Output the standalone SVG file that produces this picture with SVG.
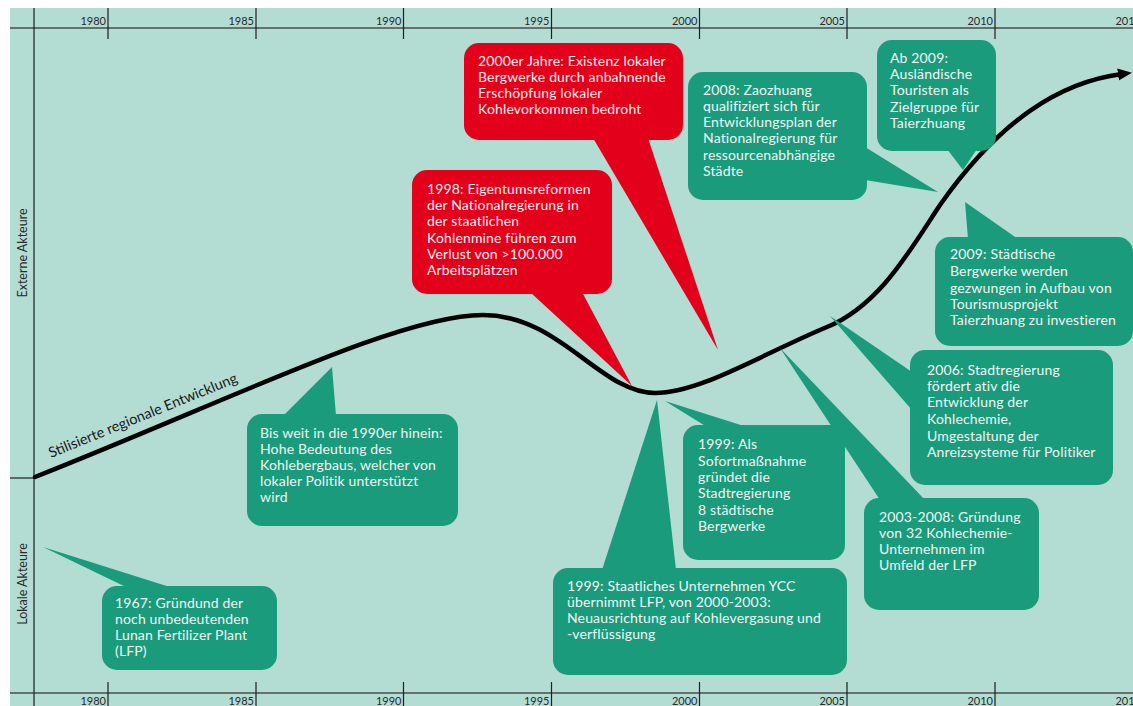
<svg xmlns="http://www.w3.org/2000/svg" width="1133" height="706" viewBox="0 0 1133 706">
<defs>
<style>
.bg{fill:#b3dcd3}
.ax{stroke:#4a4f4d;stroke-width:1.6;fill:none}
.tk{stroke:#1e1e1e;stroke-width:1.2;fill:none}
.yr{font-family:Lato,"Liberation Sans",sans-serif;font-size:11px;fill:#2a2a2a;text-anchor:end}
.side{font-family:Lato,"Liberation Sans",sans-serif;font-size:12.5px;fill:#2a2a2a;text-anchor:middle}
.g{fill:#1a9b7b}
.r{fill:#e2001a}
.t{font-family:Lato,"Liberation Sans",sans-serif;font-size:14px;letter-spacing:0.15px;fill:#f4f4f4}
.curve{stroke:#000;stroke-width:4.5;fill:none;stroke-linecap:round}
.lbl{font-family:Lato,"Liberation Sans",sans-serif;font-size:14.5px;fill:#1a1a1a}
</style>
<marker id="ah" markerUnits="userSpaceOnUse" markerWidth="16" markerHeight="16" refX="4" refY="8" orient="auto">
<path d="M0,2 L14,8 L0,14 Z" fill="#000"/>
</marker>
</defs>
<rect width="1133" height="706" fill="#fff"/>
<rect class="bg" x="10" y="8" width="1123" height="698"/>

<g id="axes">
<line class="ax" x1="10" y1="28" x2="1133" y2="28"/>
<line class="ax" x1="10" y1="693" x2="1133" y2="693"/>
<line class="tk" x1="34" y1="8" x2="34" y2="706"/>
<line class="tk" x1="10" y1="478" x2="34" y2="478"/>
<g class="tk">
<line x1="108" y1="8" x2="108" y2="39"/><line x1="256" y1="8" x2="256" y2="39"/>
<line x1="403.5" y1="8" x2="403.5" y2="39"/><line x1="551.5" y1="8" x2="551.5" y2="39"/>
<line x1="699.5" y1="8" x2="699.5" y2="39"/><line x1="847" y1="8" x2="847" y2="39"/>
<line x1="995" y1="8" x2="995" y2="39"/>
<line x1="108" y1="682" x2="108" y2="706"/><line x1="256" y1="682" x2="256" y2="706"/>
<line x1="403.5" y1="682" x2="403.5" y2="706"/><line x1="551.5" y1="682" x2="551.5" y2="706"/>
<line x1="699.5" y1="682" x2="699.5" y2="706"/><line x1="847" y1="682" x2="847" y2="706"/>
<line x1="995" y1="682" x2="995" y2="706"/>
</g>
<g class="yr">
<text x="106" y="25">1980</text><text x="254" y="25">1985</text><text x="401.5" y="25">1990</text>
<text x="549.5" y="25">1995</text><text x="697.5" y="25">2000</text><text x="845" y="25">2005</text>
<text x="993" y="25">2010</text><text x="1141" y="25">2015</text>
<text x="106" y="705">1980</text><text x="254" y="705">1985</text><text x="401.5" y="705">1990</text>
<text x="549.5" y="705">1995</text><text x="697.5" y="705">2000</text><text x="845" y="705">2005</text>
<text x="993" y="705">2010</text><text x="1141" y="705">2015</text>
</g>
<text class="side" transform="translate(27,253) rotate(-90)">Externe Akteure</text>
<text class="side" transform="translate(27,584) rotate(-90)">Lokale Akteure</text>
</g>

<g id="connectors">
<path class="curve" marker-end="url(#ah)" d="M35,477 C230,400 400,315 483,315 C560,315 600,393 655,393 C700,393 760,355 827,327 C880,305 910,250 940,205 C1000,120 1060,82 1122,74"/>
<text class="lbl" transform="translate(51,458) rotate(-22.1)">Stilisierte regionale Entwicklung</text>
</g>

<g id="n1990">
<polygon class="g" points="283,416 332,367 336,416"/>
<rect class="g" x="247" y="414" width="211" height="112" rx="15"/>
<text class="t"><tspan x="260" y="438">Bis weit in die 1990er hinein:</tspan><tspan x="260" y="454">Hohe Bedeutung des</tspan><tspan x="260" y="470">Kohlebergbaus, welcher von</tspan><tspan x="260" y="486">lokaler Politik unterstützt</tspan><tspan x="260" y="502">wird</tspan></text>
</g>

<g id="n1967">
<polygon class="g" points="128,588 43,547 173,588"/>
<rect class="g" x="102" y="586" width="175" height="84" rx="15"/>
<text class="t"><tspan x="115" y="608">1967: Gründund der</tspan><tspan x="115" y="624">noch unbedeutenden</tspan><tspan x="115" y="640">Lunan Fertilizer Plant</tspan><tspan x="115" y="656">(LFP)</tspan></text>
</g>

<g id="n1998">
<polygon class="r" points="530,292 632,386 582,292"/>
<rect class="r" x="412" y="170" width="200" height="124" rx="15"/>
<text class="t"><tspan x="427" y="194">1998: Eigentumsreformen</tspan><tspan x="427" y="210">der Nationalregierung in</tspan><tspan x="427" y="226">der staatlichen</tspan><tspan x="427" y="243">Kohlenmine führen zum</tspan><tspan x="427" y="259">Verlust von &gt;100.000</tspan><tspan x="427" y="275">Arbeitsplätzen</tspan></text>
</g>

<g id="n2000">
<polygon class="r" points="593,138 718,350 648,138"/>
<rect class="r" x="464" y="43" width="219" height="97" rx="15"/>
<text class="t"><tspan x="478" y="66">2000er  Jahre: Existenz lokaler</tspan><tspan x="478" y="82">Bergwerke durch anbahnende</tspan><tspan x="478" y="98">Erschöpfung lokaler</tspan><tspan x="478" y="114">Kohlevorkommen bedroht</tspan></text>
</g>

<g id="n2008">
<polygon class="g" points="865,147 938,192 865,180"/>
<rect class="g" x="688" y="72" width="179" height="128" rx="15"/>
<text class="t"><tspan x="703" y="95">2008: Zaozhuang</tspan><tspan x="703" y="111">qualifiziert sich für</tspan><tspan x="703" y="127">Entwicklungsplan der</tspan><tspan x="703" y="143">Nationalregierung für</tspan><tspan x="703" y="160">ressourcenabhängige</tspan><tspan x="703" y="176">Städte</tspan></text>
</g>

<g id="nAb2009">
<polygon class="g" points="947,149 963,170 977,149"/>
<rect class="g" x="877" y="40" width="119" height="111" rx="15"/>
<text class="t"><tspan x="890" y="63">Ab 2009:</tspan><tspan x="890" y="79">Ausländische</tspan><tspan x="890" y="95">Touristen als</tspan><tspan x="890" y="112">Zielgruppe für</tspan><tspan x="890" y="128">Taierzhuang</tspan></text>
</g>

<g id="n2009">
<polygon class="g" points="968,239 965,202 1018,239"/>
<rect class="g" x="935" y="237" width="198" height="109" rx="15"/>
<text class="t"><tspan x="950" y="259">2009: Städtische</tspan><tspan x="950" y="276">Bergwerke werden</tspan><tspan x="950" y="293">gezwungen in Aufbau von</tspan><tspan x="950" y="309">Tourismusprojekt</tspan><tspan x="950" y="325">Taierzhuang zu investieren</tspan></text>
</g>

<g id="n2006">
<polygon class="g" points="912,372 830,316 912,410"/>
<rect class="g" x="910" y="350" width="203" height="135" rx="15"/>
<text class="t"><tspan x="927" y="375">2006: Stadtregierung</tspan><tspan x="927" y="391">fördert ativ die</tspan><tspan x="927" y="407">Entwicklung der</tspan><tspan x="927" y="424">Kohlechemie,</tspan><tspan x="927" y="441">Umgestaltung der</tspan><tspan x="927" y="457">Anreizsysteme für Politiker</tspan></text>
</g>

<g id="n2003">
<polygon class="g" points="880,500 780,348 925,500"/>
<rect class="g" x="864" y="498" width="175" height="112" rx="15"/>
<text class="t"><tspan x="879" y="522">2003-2008: Gründung</tspan><tspan x="879" y="538">von 32 Kohlechemie-</tspan><tspan x="879" y="554">Unternehmen im</tspan><tspan x="879" y="570">Umfeld der LFP</tspan></text>
</g>

<g id="n1999a">
<polygon class="g" points="707,427 665,401 747,427"/>
<rect class="g" x="683" y="425" width="162" height="135" rx="15"/>
<text class="t"><tspan x="698" y="449">1999: Als</tspan><tspan x="698" y="466">Sofortmaßnahme</tspan><tspan x="698" y="482">gründet die</tspan><tspan x="698" y="498">Stadtregierung</tspan><tspan x="698" y="515">8 städtische</tspan><tspan x="698" y="531">Bergwerke</tspan></text>
</g>

<g id="n1999b">
<polygon class="g" points="602,570 657,400 676,570"/>
<rect class="g" x="553" y="568" width="294" height="107" rx="15"/>
<text class="t"><tspan x="567" y="591">1999: Staatliches Unternehmen YCC</tspan><tspan x="567" y="607">übernimmt LFP, von 2000-2003:</tspan><tspan x="567" y="623">Neuausrichtung auf Kohlevergasung und</tspan><tspan x="567" y="639">-verflüssigung</tspan></text>
</g>
</svg>
